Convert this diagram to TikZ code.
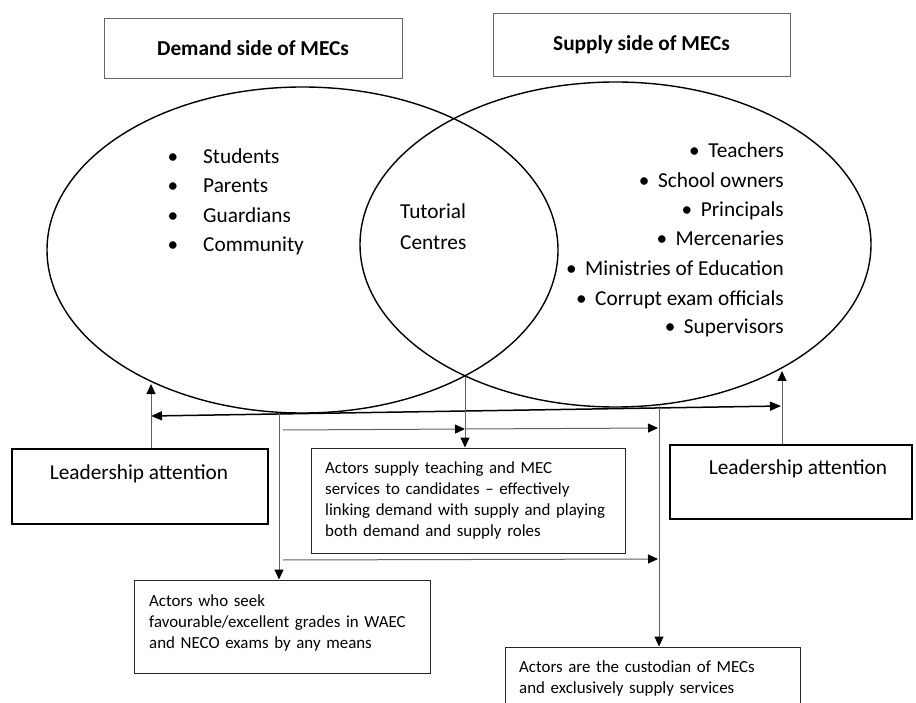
\documentclass[tikz,border=0pt]{standalone}
\usepackage{fontspec}
\setmainfont{Carlito}
\usetikzlibrary{arrows.meta,shapes.geometric}
\tikzset{
  big/.style={font=\fontsize{21.3pt}{25pt}\selectfont, inner sep=0pt},
  small/.style={font=\fontsize{16.9pt}{21.3pt}\selectfont, inner sep=0pt, align=left, anchor=base west},
  topbox/.style={draw=black!60, line width=0.9pt, rectangle, inner sep=0pt},
  txtbox/.style={draw=black!85, line width=1pt, rectangle, inner sep=0pt},
  leadbox/.style={draw=black, line width=1.8pt, rectangle, inner sep=0pt},
  ell/.style={draw=black, line width=1.4pt, ellipse, inner sep=0pt},
  conn/.style={draw=black!62, line width=1pt, -{Triangle[length=10pt,width=9pt,color=black]}},
  dbl/.style={draw=black, line width=1.5pt, {Triangle[length=11pt,width=9pt]}-{Triangle[length=11pt,width=9pt]}},
  item/.style={big, anchor=base west},
  ritem/.style={big, anchor=base east},
  dot/.style={big, anchor=base}
}
\newcommand{\blt}{\textbullet\hspace{0.4em}}
\begin{document}
\begin{tikzpicture}[x=1pt,y=-1pt]
\useasboundingbox (0,0) rectangle (916,703);

% title boxes
\node[topbox, minimum width=298pt, minimum height=60pt, big] (dem) at (253,48) {\textbf{Demand side of MECs}};
\node[topbox, minimum width=297pt, minimum height=63pt, big] (sup) at (641.5,44.5) {\textbf{Supply side of MECs}};

% ellipses
\node[ell, minimum width=511pt, minimum height=326pt] (ellL) at (302.5,250) {};
\node[ell, minimum width=511pt, minimum height=325pt] (ellR) at (615.5,244.5) {};

% demand list
\node[dot] (b1) at (173,164) {\textbullet};
\node[dot] (b2) at (173,193) {\textbullet};
\node[dot] (b3) at (173,223) {\textbullet};
\node[dot] (b4) at (173,252) {\textbullet};
\node[item] (d1) at (203,164) {Students};
\node[item] (d2) at (203,193) {Parents};
\node[item] (d3) at (203,223) {Guardians};
\node[item] (d4) at (203,252) {Community};

% overlap
\node[item] (tc1) at (400,219) {Tutorial};
\node[item] (tc2) at (400,250) {Centres};

% supply list
\node[ritem] (s1) at (784,158) {\blt Teachers};
\node[ritem] (s2) at (784,188) {\blt School owners};
\node[ritem] (s3) at (784,217) {\blt Principals};
\node[ritem] (s4) at (784,246) {\blt Mercenaries};
\node[ritem] (s5) at (784,276) {\blt Ministries of Education};
\node[ritem] (s6) at (784,306) {\blt Corrupt exam officials};
\node[ritem] (s7) at (784,334) {\blt Supervisors};

% leadership boxes
\node[leadbox, minimum width=256pt, minimum height=75pt] (lla) at (140,486.5) {};
\node[big, anchor=base] (llat) at (139,479) {Leadership attention};
\node[leadbox, minimum width=242pt, minimum height=74pt] (llb) at (791,482) {};
\node[big, anchor=base] (llbt) at (798,474) {Leadership attention};

% text boxes
\node[txtbox, minimum width=314pt, minimum height=105pt] (mid) at (468,500.5) {};
\node[small, text width=295pt] (midt) at (325,473) {Actors supply teaching and MEC\\services to candidates -- effectively\\linking demand with supply and playing\\both demand and supply roles};
\node[txtbox, minimum width=296pt, minimum height=93pt] (seek) at (282,626.5) {};
\node[small, text width=280pt] (seekt) at (149,606) {Actors who seek\\favourable/excellent grades in WAEC\\and NECO exams by any means};
\node[txtbox, minimum width=295pt, minimum height=73pt] (cust) at (652.5,683.5) {};
\node[small, text width=280pt] (custt) at (519,672) {Actors are the custodian of MECs\\and exclusively supply services};

% connectors
\coordinate (tipL) at (151,384);
\draw[conn] (lla.north -| tipL) -- (tipL);
\coordinate (tipR) at (782,371);
\draw[conn] (llb.north -| tipR) -- (tipR);
\coordinate (dL) at (151,416);
\coordinate (dR) at (781,406);
\draw[dbl] (dL) -- (dR);
\coordinate (bL) at (279,413);
\draw[conn] (bL) -- (bL |- seek.north);
\coordinate (isec) at (465,377);
\draw[conn] (isec) -- (isec |- mid.north);
\coordinate (bR) at (659,405);
\draw[conn] (bR) -- (bR |- cust.north);
\coordinate (h1s) at (283,430);
\coordinate (h1m) at (465,429);
\coordinate (h1e) at (658,428);
\draw[conn] (h1s) -- (h1m);
\draw[conn] (h1m) -- (h1e);
\coordinate (h2s) at (283,560);
\coordinate (h2e) at (658,559);
\draw[conn] (h2s) -- (h2e);
\end{tikzpicture}
\end{document}
